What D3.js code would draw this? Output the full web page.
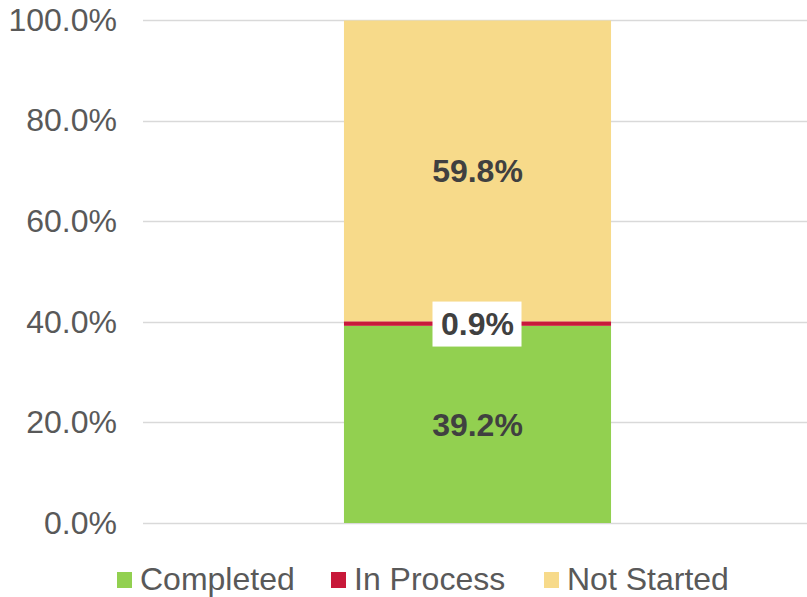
<!DOCTYPE html>
<head>
    <meta charset="utf-8">
    <title>Status stacked bar</title>
    <style>
        body { margin: 0; background: #fff; }
        text { font-family: "Liberation Sans", Arial, sans-serif; }
    </style>
</head>
<body>
<svg width="807" height="597"></svg>

<script src="https://d3js.org/d3.v7.min.js"></script>
<script>
    // data
    var categories = ["All"];
    var seriesNames = ["Completed", "In Process", "Not Started"];
    var seriesValues = [0.392, 0.009, 0.598];
    var seriesColors = ["#92D050", "#C8193A", "#F7DA8A"];
    var tickValues = [0, 0.2, 0.4, 0.6, 0.8, 1.0];

    var svg = d3.select("svg");

    var y = d3.scaleLinear()
        .domain([0, 1])
        .range([523, 20]);

    var x = d3.scaleBand()
        .domain(categories)
        .range([145, 810])
        .paddingInner(0)
        .paddingOuter(0.745);

    // gridlines
    svg.append("g")
        .selectAll("line")
        .data(tickValues)
        .enter().append("line")
            .attr("x1", 143)
            .attr("x2", 807)
            .attr("y1", function(d) { return Math.round(y(d)) + 0.5; })
            .attr("y2", function(d) { return Math.round(y(d)) + 0.5; })
            .attr("stroke", "#d9d9d9")
            .attr("stroke-width", 1.5);

    // y axis labels
    var yAxis = svg.append("g")
        .attr("transform", "translate(125,0)")
        .call(d3.axisLeft(y)
            .tickValues(tickValues)
            .tickSize(0)
            .tickPadding(8)
            .tickFormat(d3.format(".1%")));
    yAxis.select(".domain").remove();
    yAxis.selectAll("text")
        .attr("font-size", 32)
        .attr("fill", "#595959")
        .attr("font-family", "Liberation Sans, Arial, sans-serif");

    // stacked segments
    var row = { cat: categories[0] };
    seriesNames.forEach(function(n, i) { row[n] = seriesValues[i]; });
    var stacked = d3.stack().keys(seriesNames)([row]);

    var layers = svg.append("g")
        .selectAll("g")
        .data(stacked)
        .enter().append("g")
            .attr("fill", function(d, i) { return seriesColors[i]; });

    layers.selectAll("rect")
        .data(function(d) { return d; })
        .enter().append("rect")
            .attr("x", function(d) { return x(d.data.cat); })
            .attr("width", x.bandwidth())
            .attr("y", function(d) { return y(d[1]); })
            .attr("height", function(d) { return y(d[0]) - y(d[1]); });

    // data labels
    var fmt = d3.format(".1%");
    stacked.forEach(function(layer, i) {
        var d = layer[0];
        var cx = x(d.data.cat) + x.bandwidth() / 2;
        var cy = y((d[0] + d[1]) / 2);
        var g = svg.append("g");
        if (i === 1) {
            g.append("rect")
                .attr("x", cx - 45)
                .attr("y", cy - 22)
                .attr("width", 89)
                .attr("height", 45)
                .attr("fill", "#fff");
        }
        g.append("text")
            .attr("x", cx)
            .attr("y", cy)
            .attr("dy", "0.36em")
            .attr("text-anchor", "middle")
            .attr("font-size", 32)
            .attr("font-weight", "bold")
            .attr("fill", "#404040")
            .text(fmt(seriesValues[i]));
    });

    // legend
    var legendX = [117, 331, 544];
    var legend = svg.append("g")
        .selectAll("g")
        .data(seriesNames)
        .enter().append("g")
            .attr("transform", function(d, i) { return "translate(" + legendX[i] + ",572)"; });

    legend.append("rect")
        .attr("width", 15)
        .attr("height", 16)
        .attr("fill", function(d, i) { return seriesColors[i]; });

    legend.append("text")
        .attr("x", 23)
        .attr("y", 6)
        .attr("dy", "0.36em")
        .attr("font-size", 32)
        .attr("fill", "#595959")
        .text(function(d) { return d; });
</script>
</body>
